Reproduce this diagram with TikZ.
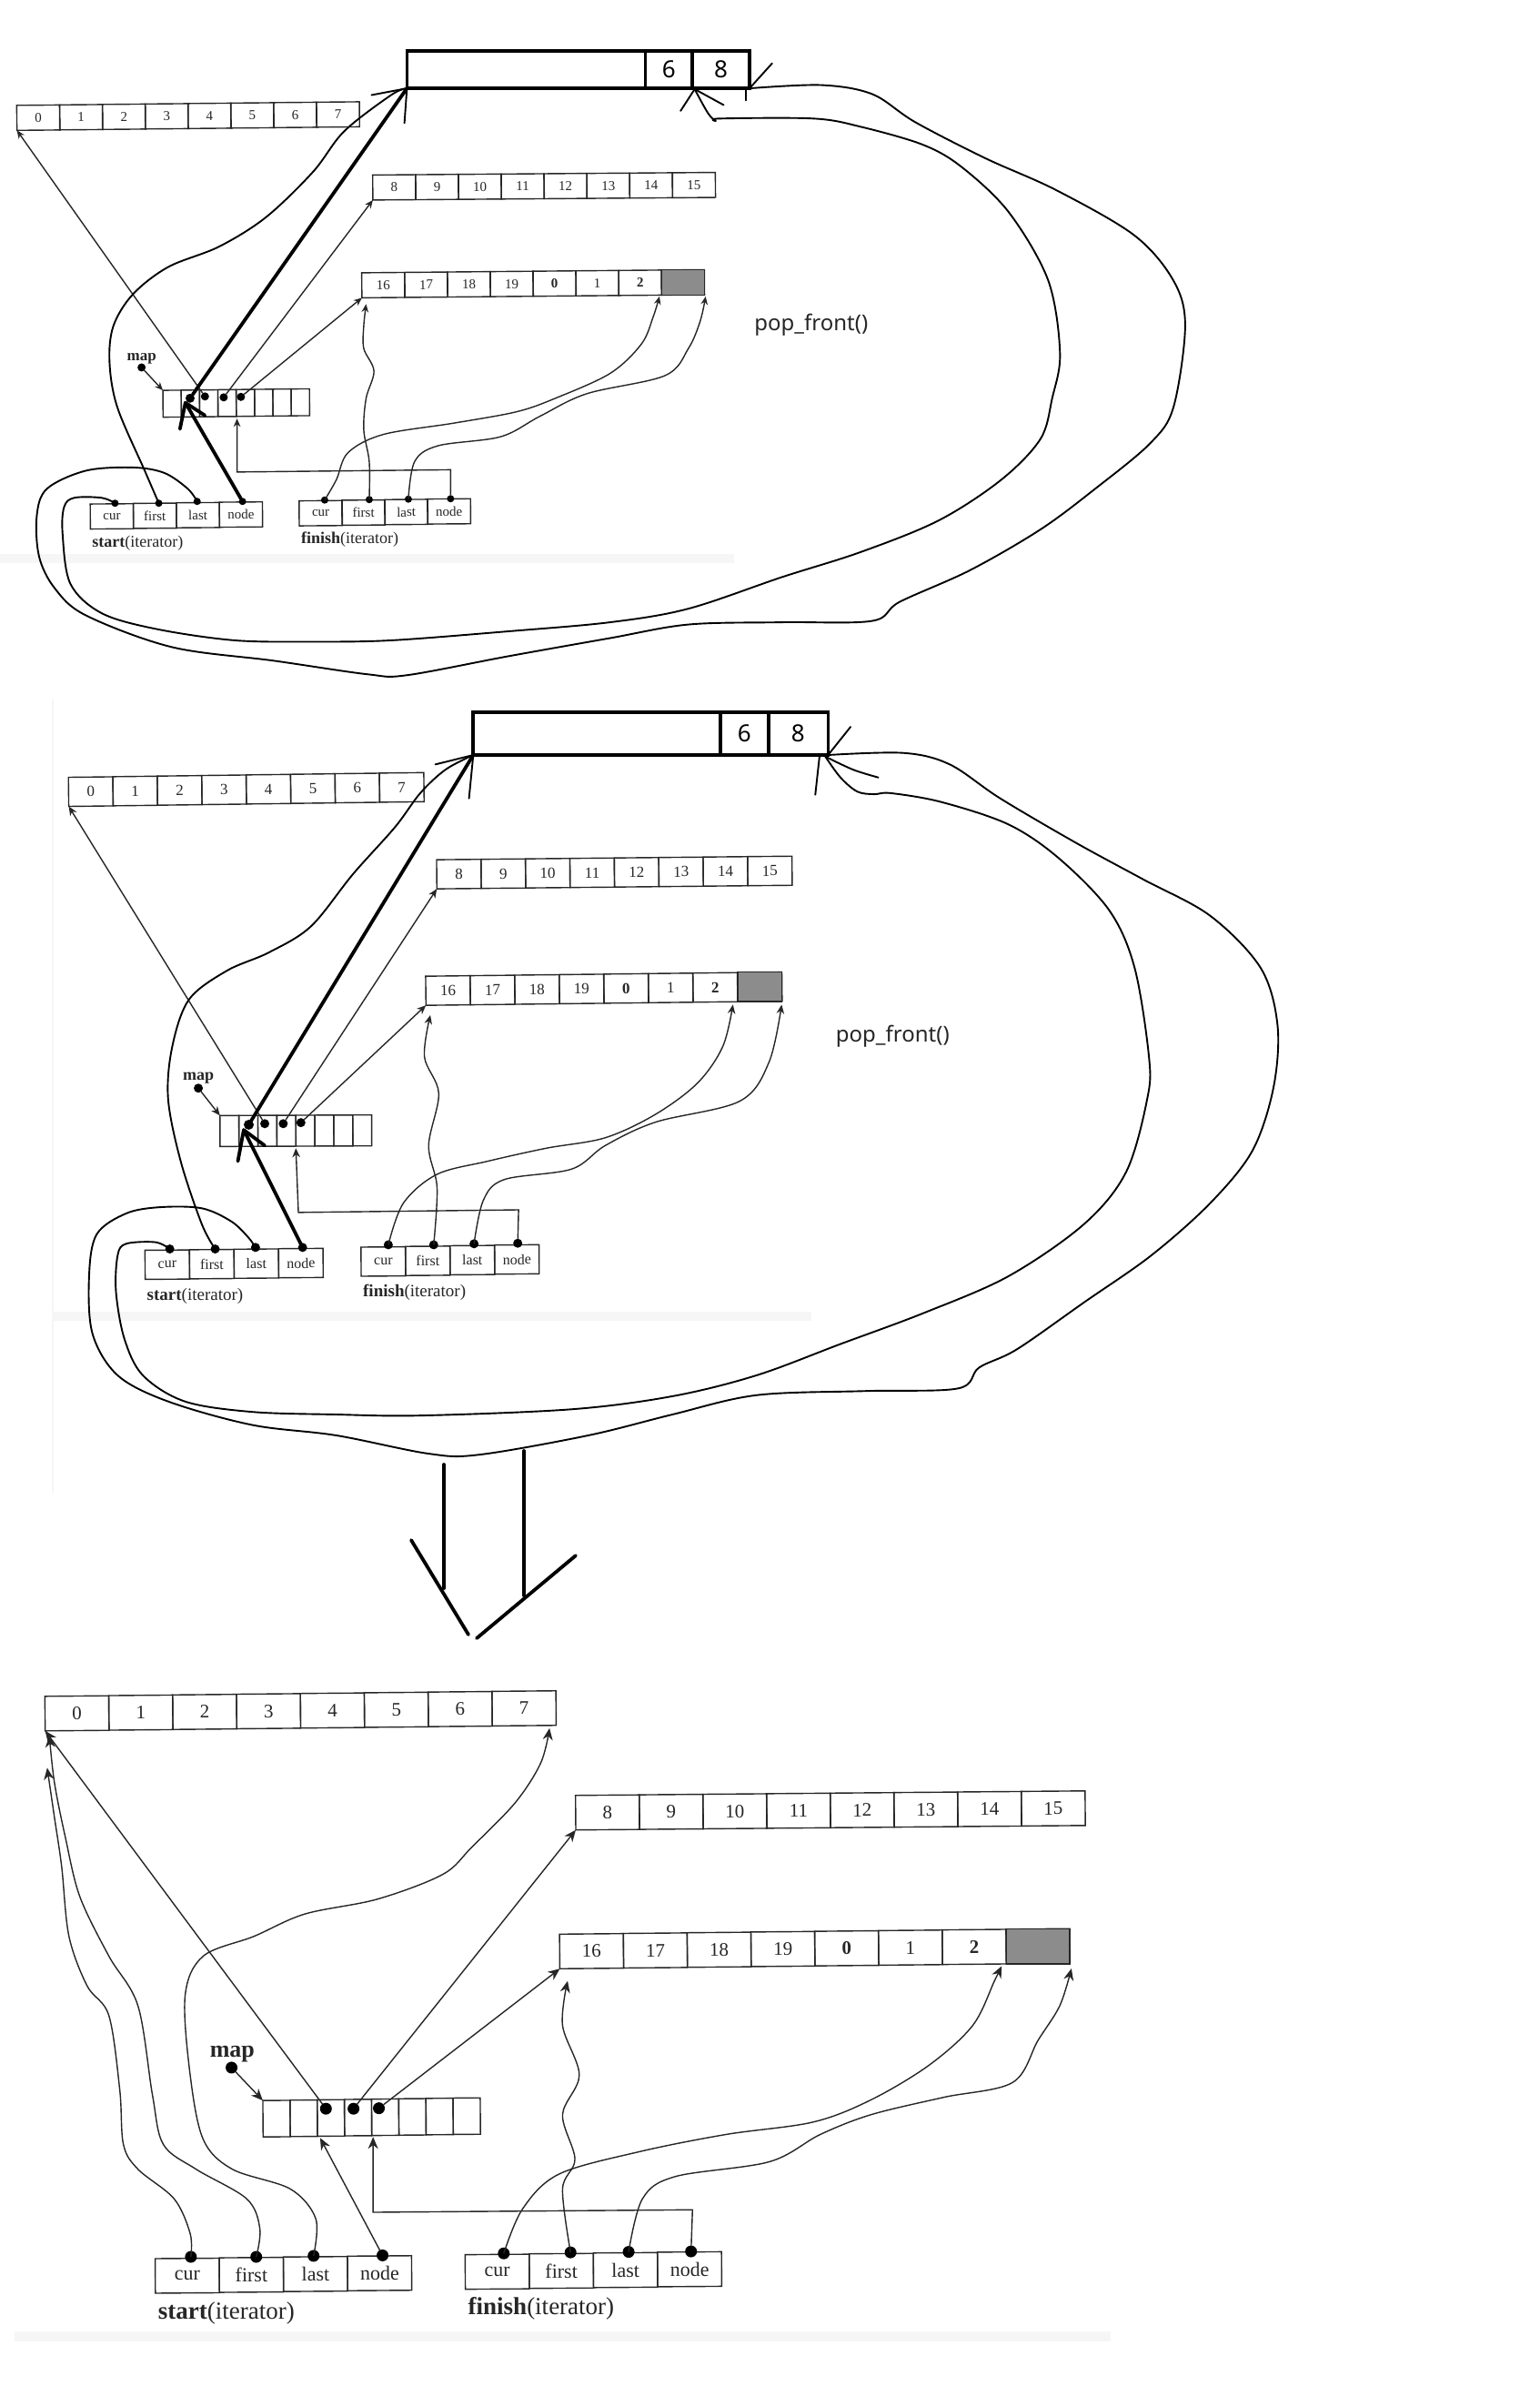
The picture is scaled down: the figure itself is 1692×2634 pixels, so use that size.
\documentclass[tikz,border=0pt]{standalone}
\usepackage{fontspec}
\setmainfont{Liberation Serif}
\newfontfamily\handfont{Noto Sans}
\usetikzlibrary{calc,arrows.meta}
\definecolor{ink}{HTML}{262626}
\definecolor{shadecell}{HTML}{8C8C8C}
\definecolor{band}{HTML}{F6F6F6}
\tikzset{
  cellbox/.style={draw=ink,line width=1.4pt,inner sep=0pt,outer sep=0pt,text=ink},
  topbox/.style={draw=black,line width=3.6pt,inner sep=0pt,outer sep=0pt,font=\handfont\fontsize{26}{28}\selectfont},
  pin/.style={circle,fill=black,inner sep=0pt,outer sep=0pt,minimum size=#1},
  thinline/.style={draw=ink,line width=1.4pt},
  thinarrow/.style={thinline,-{Stealth[length=#1,width=0.85*#1]}},
  curvearrow/.style={thinarrow=#1,smooth,tension=0.55},
  handline/.style={draw=black,line width=1.9pt,line join=round,line cap=round},
  handcurve/.style={handline,smooth,tension=0.55},
  heavy/.style={draw=black,line width=3.8pt,line cap=round,line join=round},
  lbl/.style={inner sep=0pt,outer sep=0pt,text=ink},
  popnote/.style={inner sep=0pt,font=\handfont\fontsize{24}{26}\selectfont,text=ink}
}
% name, first centre, last centre, W, H, angle, font size, count, labels
\newcommand{\cellrow}[9]{%
  \foreach \lbl [count=\kk from 0] in {#9} {%
    \pgfmathsetmacro\cellpos{\kk/(#8-1)}%
    \node[cellbox,minimum width=#4pt,minimum height=#5pt,rotate=#6,font=\fontsize{#7}{#7}\selectfont]
      (#1-\kk) at ($#2!\cellpos!#3$) {\lbl};
  }%
}
\newcommand{\shadeit}[1]{\draw[cellbox,fill=shadecell] (#1.south west) rectangle (#1.north east);}
\begin{document}
\begin{tikzpicture}[x=1pt,y=1pt]
\useasboundingbox (0,0) rectangle (1692,-2634);
\fill[white] (0,0) rectangle (1692,-2634);

%%%%%%%%%%%%%%%%%%%%%%%%% first drawing
\begin{scope}[x=0.86pt,y=-0.4975pt]
\fill[band] (0,1225) rectangle (938,1245);
\node[topbox,minimum width=262pt,minimum height=41pt] (ta1) at (672.5,154) {};
\node[topbox,minimum width=52pt,minimum height=41pt] (tb1) at (855,154) {6};
\node[topbox,minimum width=63pt,minimum height=41pt] (tc1) at (921.5,154) {8};

\cellrow{ra1}{(49,260)}{(432,253)}{47.3}{27.5}{0.5}{15}{8}{0,1,2,3,4,5,6,7}
\cellrow{rb1}{(504,414)}{(887,409)}{47.3}{27.5}{0.45}{15}{8}{8,9,10,11,12,13,14,15}
\cellrow{rc1}{(490,630)}{(873,624)}{47.3}{27.5}{0.5}{15}{8}{16,17,18,19,\textbf{0},1,\textbf{2},{}}
\shadeit{rc1-7}
\cellrow{m1}{(220,892)}{(384,889)}{20.1}{29.5}{0.4}{15}{8}{{},{},{},{},{},{},{},{}}
\cellrow{s1}{(143,1141)}{(308,1137)}{47.4}{27.5}{0.4}{15}{4}{cur,first,last,node}
\cellrow{f1}{(410,1134)}{(574,1130)}{47.4}{27.5}{0.4}{15}{4}{cur,first,last,node}

\node[lbl,anchor=west,font=\fontsize{18}{20}\selectfont] (sl1) at (118,1200) {\textbf{start}(iterator)};
\node[lbl,anchor=west,font=\fontsize{18}{20}\selectfont] (fl1) at (385,1192) {\textbf{finish}(iterator)};
\node[lbl,font=\bfseries\fontsize{17}{18}\selectfont] (ml1) at (181,793) {map};
\node[popnote] (pop1) at (1037,718) {pop\_front()};

\node[pin=9pt] (mp1) at (181,812) {};
\node[pin=10pt] (d1a) at (243,880) {};
\node[pin=9pt] (d1b) at (262,876) {};
\node[pin=9pt] (d1c) at (286,878) {};
\node[pin=9pt] (d1d) at (308,877) {};
\node[pin=8pt] (sa1) at (147,1112) {};
\node[pin=8pt] (sb1) at (203,1112) {};
\node[pin=8pt] (sc1) at (252,1108) {};
\node[pin=8pt] (sd1) at (310,1108) {};
\node[pin=8pt] (fa1) at (415,1105) {};
\node[pin=8pt] (fb1) at (472,1104) {};
\node[pin=8pt] (fc1) at (522,1103) {};
\node[pin=8pt] (fd1) at (576,1102) {};

\draw[thinarrow=9pt] (mp1) -- (m1-0.north west);
\draw[thinarrow=9pt] (d1b) -- (ra1-0.south west);
\draw[thinarrow=9pt] (d1c) -- (rb1-0.south west);
\draw[thinarrow=9pt] (d1d) -- (rc1-0.south west);
\draw[thinarrow=9pt] (fd1) -- (576,1038) -- (303,1043) -- (303,925);
\draw[curvearrow=9pt] plot coordinates {(fa1) (430,1060) (445,1000) (490,960) (580,935) (660,910) (710,880) (780,825) (820,760) (835,700) (843,655)};
\draw[curvearrow=9pt] plot coordinates {(fb1) (472,1020) (465,950) (468,880) (478,820) (465,770) (465,720) (468,672)};
\draw[curvearrow=9pt] plot coordinates {(fc1) (530,1020) (560,985) (640,965) (690,920) (750,870) (850,830) (880,770) (895,710) (902,655)};

\draw[heavy] (d1a) -- (ta1.south west);
\draw[heavy] (sd1) -- (237,890);
\draw[heavy] (230,948) -- (237,890) -- (262,918);
\draw[handline] (475,210) -- (ta1.south west) -- (517,272);
\draw[handcurve] plot coordinates {(sb1) (185,1040) (150,900) (140,800) (145,720) (170,650) (215,590) (280,545) (340,480) (400,380) (440,290) (500,210) (ta1.south west)};
\draw[handline] (tc1.south east) -- (987,140);
\draw[handline] (953,195) -- (953,222);
\draw[handline] (870,245) -- (888,197) -- (925,232);
\draw[handcurve] plot coordinates {(888,197) (905,250) (915,267) (920,262) (1040,262) (1100,280) (1180,320) (1230,370) (1290,470) (1340,620) (1355,780) (1345,880) (1330,970) (1280,1060) (1200,1150) (1100,1220) (1000,1275) (880,1345) (780,1375) (650,1395) (500,1415) (400,1418) (300,1415) (200,1390) (130,1355) (90,1290) (80,1180) (82,1120) (95,1100) (130,1100) (sa1)};
\draw[handcurve] plot coordinates {(tc1.south east) (1050,188) (1115,208) (1170,270) (1260,350) (1350,420) (1450,520) (1500,620) (1515,720) (1500,900) (1470,980) (1400,1080) (1330,1170) (1240,1260) (1150,1330) (1115,1372) (1000,1375) (880,1380) (780,1410) (650,1450) (520,1492) (470,1490) (350,1460) (220,1430) (110,1360) (70,1300) (50,1230) (47,1140) (60,1080) (110,1040) (170,1033) (210,1045) (240,1080) (sc1)};
\end{scope}

%%%%%%%%%%%%%%%%%%%%%%%%% second drawing
\begin{scope}[yshift=-760pt,x=0.924pt,y=-0.574pt]
\fill[band] (63,1188) rectangle (965,1205);
\draw[band,line width=1.5pt] (63,15) -- (63,1535);
\node[topbox,minimum width=271.5pt,minimum height=47pt] (ta2) at (710,81) {};
\node[topbox,minimum width=53pt,minimum height=47pt] (tb2) at (885.5,81) {6};
\node[topbox,minimum width=66pt,minimum height=47pt] (tc2) at (949.5,81) {8};

\cellrow{ra2}{(108,192)}{(478,184)}{48.8}{32}{0.65}{17}{8}{0,1,2,3,4,5,6,7}
\cellrow{rb2}{(546,350)}{(916,344)}{48.8}{32}{0.5}{17}{8}{8,9,10,11,12,13,14,15}
\cellrow{rc2}{(533,573)}{(904,566)}{48.8}{32}{0.6}{17}{8}{16,17,18,19,\textbf{0},1,\textbf{2},{}}
\shadeit{rc2-7}
\cellrow{m2}{(273,842)}{(431,841)}{20.8}{34}{0.2}{15}{8}{{},{},{},{},{},{},{},{}}
\cellrow{s2}{(199,1098)}{(358,1095)}{48.8}{32}{0.4}{16}{4}{cur,first,last,node}
\cellrow{f2}{(456,1092)}{(615,1088)}{48.8}{32}{0.4}{16}{4}{cur,first,last,node}

\node[lbl,anchor=west,font=\fontsize{19}{21}\selectfont] (sl2) at (175,1158) {\textbf{start}(iterator)};
\node[lbl,anchor=west,font=\fontsize{19}{21}\selectfont] (fl2) at (432,1152) {\textbf{finish}(iterator)};
\node[lbl,font=\bfseries\fontsize{18}{20}\selectfont] (ml2) at (236,740) {map};
\node[popnote] (pop2) at (1062,660) {pop\_front()};

\node[pin=10pt] (mp2) at (236,760) {};
\node[pin=11pt] (d2a) at (296,830) {};
\node[pin=10pt] (d2b) at (315,828) {};
\node[pin=10pt] (d2c) at (337,828) {};
\node[pin=10pt] (d2d) at (358,826) {};
\node[pin=10pt] (sa2) at (202,1068) {};
\node[pin=10pt] (sb2) at (256,1068) {};
\node[pin=10pt] (sc2) at (304,1065) {};
\node[pin=10pt] (sd2) at (360,1065) {};
\node[pin=10pt] (fa2) at (462,1060) {};
\node[pin=10pt] (fb2) at (516,1060) {};
\node[pin=10pt] (fc2) at (564,1058) {};
\node[pin=10pt] (fd2) at (616,1057) {};

\draw[thinarrow=10pt] (mp2) -- (m2-0.north west);
\draw[thinarrow=10pt] (d2b) -- (ra2-0.south west);
\draw[thinarrow=10pt] (d2c) -- (rb2-0.south west);
\draw[thinarrow=10pt] (d2d) -- (rc2-0.south west);
\draw[thinarrow=10pt] (fd2) -- (617,993) -- (355,998) -- (352,875);
\draw[curvearrow=10pt] plot coordinates {(fa2) (480,980) (520,925) (580,900) (650,875) (720,855) (780,810) (830,750) (860,680) (872,600)};
\draw[curvearrow=10pt] plot coordinates {(fb2) (520,950) (510,870) (522,770) (505,700) (512,620)};
\draw[curvearrow=10pt] plot coordinates {(fc2) (575,975) (600,935) (680,915) (720,870) (780,825) (880,785) (915,710) (930,600)};

\draw[heavy] (d2a) -- (ta2.south west);
\draw[heavy] (sd2) -- (290,840);
\draw[heavy] (283,900) -- (290,840) -- (315,870);
\draw[handline] (518,140) -- (ta2.south west) -- (558,205);
\draw[handcurve] plot coordinates {(sb2) (240,1020) (215,900) (200,780) (205,680) (225,590) (270,535) (320,500) (370,450) (420,350) (470,260) (500,195) (530,150) (ta2.south west)};
\draw[handline] (tc2.south east) -- (1012,68);
\draw[handline] (975,125) -- (970,198);
\draw[handcurve] plot coordinates {(982,125) (1015,150) (1045,165)};
\draw[handcurve] plot coordinates {(982,125) (1000,165) (1020,192) (1040,197) (1060,195) (1120,212) (1200,255) (1260,320) (1320,420) (1350,530) (1367,700) (1365,780) (1340,920) (1290,1020) (1200,1120) (1100,1190) (1000,1250) (900,1310) (800,1350) (680,1375) (500,1387) (400,1385) (300,1380) (220,1360) (170,1310) (148,1240) (138,1150) (140,1080) (150,1058) (185,1055) (sa2)};
\draw[handcurve] plot coordinates {(tc2.south east) (1075,118) (1130,140) (1190,205) (1280,290) (1360,360) (1440,430) (1500,530) (1520,640) (1515,760) (1490,880) (1440,980) (1370,1080) (1290,1170) (1210,1260) (1165,1295) (1140,1335) (1030,1340) (900,1348) (800,1385) (700,1425) (570,1462) (510,1460) (400,1425) (300,1405) (200,1360) (140,1310) (110,1230) (106,1120) (115,1040) (150,1000) (190,988) (240,990) (275,1015) (295,1045) (sc2)};
\end{scope}

%%%%%%%%%%%%%%%%%%%%%%%%% down arrow
\begin{scope}[x=1pt,y=-1pt]
\draw[heavy] (488,1610) -- (488,1746);
\draw[heavy] (576,1595) -- (576,1754);
\draw[heavy] (452,1693) -- (515,1797);
\draw[heavy] (633,1710) -- (524,1801);
\end{scope}

%%%%%%%%%%%%%%%%%%%%%%%%% third drawing
\begin{scope}[yshift=-1780pt,x=0.798pt,y=-0.5447pt]
\fill[band] (20,1437) rectangle (1530,1458);
\cellrow{ra3}{(106,190)}{(722,180)}{70.2}{38}{0.5}{21}{8}{0,1,2,3,4,5,6,7}
\cellrow{rb3}{(837,390)}{(1451,382)}{70.2}{38}{0.45}{21}{8}{8,9,10,11,12,13,14,15}
\cellrow{rc3}{(815,670)}{(1430,660)}{70.2}{38}{0.5}{21}{8}{16,17,18,19,\textbf{0},1,\textbf{2},{}}
\shadeit{rc3-7}
\cellrow{m3}{(381,1008)}{(643,1003)}{29.9}{40}{0.4}{15}{8}{{},{},{},{},{},{},{},{}}
\cellrow{s3}{(258,1325)}{(523,1320)}{70.4}{38}{0.4}{22}{4}{cur,first,last,node}
\cellrow{f3}{(685,1317)}{(950,1312)}{70.4}{38}{0.4}{22}{4}{cur,first,last,node}

\node[lbl,anchor=west,font=\fontsize{27}{29}\selectfont] (sl3) at (218,1400) {\textbf{start}(iterator)};
\node[lbl,anchor=west,font=\fontsize{27}{29}\selectfont] (fl3) at (645,1392) {\textbf{finish}(iterator)};
\node[lbl,font=\bfseries\fontsize{26}{28}\selectfont] (ml3) at (320,878) {map};

\node[pin=13pt] (mp3) at (319,905) {};
\node[pin=13pt] (d3b) at (449,988) {};
\node[pin=13pt] (d3c) at (487,988) {};
\node[pin=13pt] (d3d) at (522,987) {};
\node[pin=13pt] (sa3) at (263,1287) {};
\node[pin=13pt] (sb3) at (353,1287) {};
\node[pin=13pt] (sc3) at (432,1285) {};
\node[pin=13pt] (sd3) at (527,1284) {};
\node[pin=13pt] (fa3) at (694,1280) {};
\node[pin=13pt] (fb3) at (786,1278) {};
\node[pin=13pt] (fc3) at (866,1277) {};
\node[pin=13pt] (fd3) at (952,1276) {};

\draw[thinarrow=13pt] (mp3) -- (m3-0.north west);
\draw[thinarrow=13pt] (d3b) -- (ra3-0.south west);
\draw[thinarrow=13pt] (d3c) -- (rb3-0.south west);
\draw[thinarrow=13pt] (d3d) -- (rc3-0.south west);
\draw[thinarrow=13pt] (sd3) -- (441,1047);
\draw[thinarrow=13pt] (fd3) -- (954,1192) -- (514,1197) -- (514,1045);
\draw[curvearrow=13pt] plot coordinates {(sa3) (262,1240) (240,1170) (190,1110) (170,1060) (165,950) (150,800) (120,740) (95,640) (85,500) (75,400) (65,300)};
\draw[curvearrow=13pt] plot coordinates {(sb3) (358,1230) (340,1170) (270,1110) (225,1060) (210,960) (190,780) (150,680) (110,560) (90,440) (75,330) (68,235)};
\draw[curvearrow=13pt] plot coordinates {(sc3) (435,1210) (400,1150) (320,1110) (280,1050) (262,920) (255,760) (280,680) (350,640) (420,595) (520,565) (610,515) (650,460) (710,370) (745,290) (757,220)};
\draw[curvearrow=13pt] plot coordinates {(fa3) (720,1190) (770,1120) (880,1075) (1000,1040) (1120,1015) (1200,970) (1280,900) (1340,820) (1370,730) (1380,700)};
\draw[curvearrow=13pt] plot coordinates {(fb3) (775,1150) (792,1090) (775,1000) (798,920) (775,820) (782,730)};
\draw[curvearrow=13pt] plot coordinates {(fc3) (885,1170) (930,1125) (1060,1095) (1130,1040) (1200,1000) (1300,965) (1395,935) (1430,850) (1460,780) (1476,705)};
\end{scope}
\end{tikzpicture}
\end{document}
